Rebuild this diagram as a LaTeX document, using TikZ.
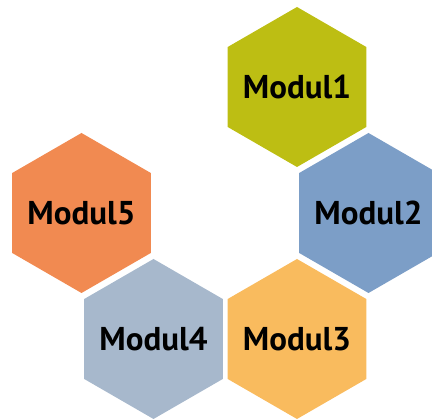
\documentclass[tikz,border=0pt]{standalone}
\usepackage{fontspec}
\setmainfont{PT Sans}
\usetikzlibrary{backgrounds}
\definecolor{cOne}{HTML}{BDBE13}
\definecolor{cTwo}{HTML}{7C9EC7}
\definecolor{cThree}{HTML}{F9BB5E}
\definecolor{cFour}{HTML}{A7B8CC}
\definecolor{cFive}{HTML}{F18A51}
\begin{document}
\begin{tikzpicture}[x=1pt,y=1pt,
  hexlabel/.style={inner sep=0pt, font=\fontsize{33}{38}\selectfont\bfseries, text=black}]
\useasboundingbox (0,0) rectangle (432,419);
\node[hexlabel] (m1) at (297,332) {Modul1};
\node[hexlabel] (m2) at (368.5,206) {Modul2};
\node[hexlabel] (m3) at (297,80)  {Modul3};
\node[hexlabel] (m4) at (153.5,80) {Modul4};
\node[hexlabel] (m5) at (81.5,206)  {Modul5};
\begin{scope}[on background layer]
\foreach \n/\c in {m1/cOne,m2/cTwo,m3/cThree,m4/cFour,m5/cFive}
  \fill[\c] (\n.center) +(90:80) -- +(150:80) -- +(210:80) -- +(270:80) -- +(330:80) -- +(30:80) -- cycle;
\end{scope}
\end{tikzpicture}
\end{document}
